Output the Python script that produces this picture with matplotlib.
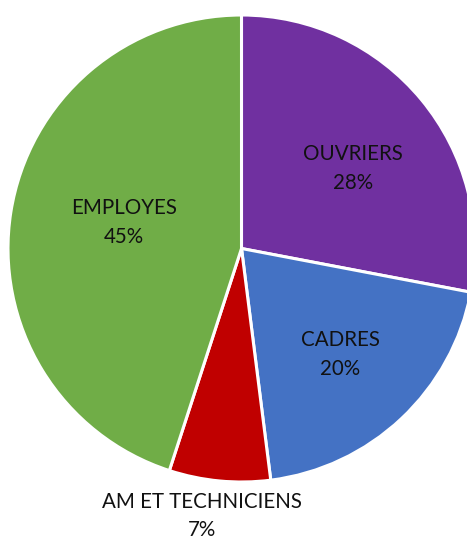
import numpy as np
import matplotlib
matplotlib.use("Agg")
import matplotlib.pyplot as plt

categories = ["OUVRIERS", "CADRES", "AM ET TECHNICIENS", "EMPLOYES"]
values = [28, 20, 7, 45]
colors = ["#7030A0", "#4472C4", "#C00000", "#70AD47"]
label_radius = [0.588, 0.620, 1.158, 0.515]
label_angle_shift = [-4.1, -0.2, -2.95, -3.5]

W, H = 467, 541
fig = plt.figure(figsize=(W / 100, H / 100), dpi=100)
cx, cy, R = 241.5, 292.5, 233.5
ax = fig.add_axes([(cx - R) / W, (cy - R) / H, 2 * R / W, 2 * R / H])
ax.set_aspect("equal")
ax.axis("off")

wedges, _ = ax.pie(values, colors=colors, startangle=90, counterclock=False,
                   radius=1, wedgeprops=dict(edgecolor="white", linewidth=2.2))
ax.set_xlim(-1, 1)
ax.set_ylim(-1, 1)

total = sum(values)
for w, cat, v, r, da in zip(wedges, categories, values, label_radius, label_angle_shift):
    ang = np.deg2rad((w.theta1 + w.theta2) / 2 + da)
    x, y = r * np.cos(ang), r * np.sin(ang)
    ax.text(x, y, f"{cat}\n{round(100 * v / total)}%", ha="center", va="center",
            fontsize=14.8, family=["Lato", "DejaVu Sans"], color="#111111",
            linespacing=1.55, clip_on=False)

fig.savefig("out.png", dpi=100)
